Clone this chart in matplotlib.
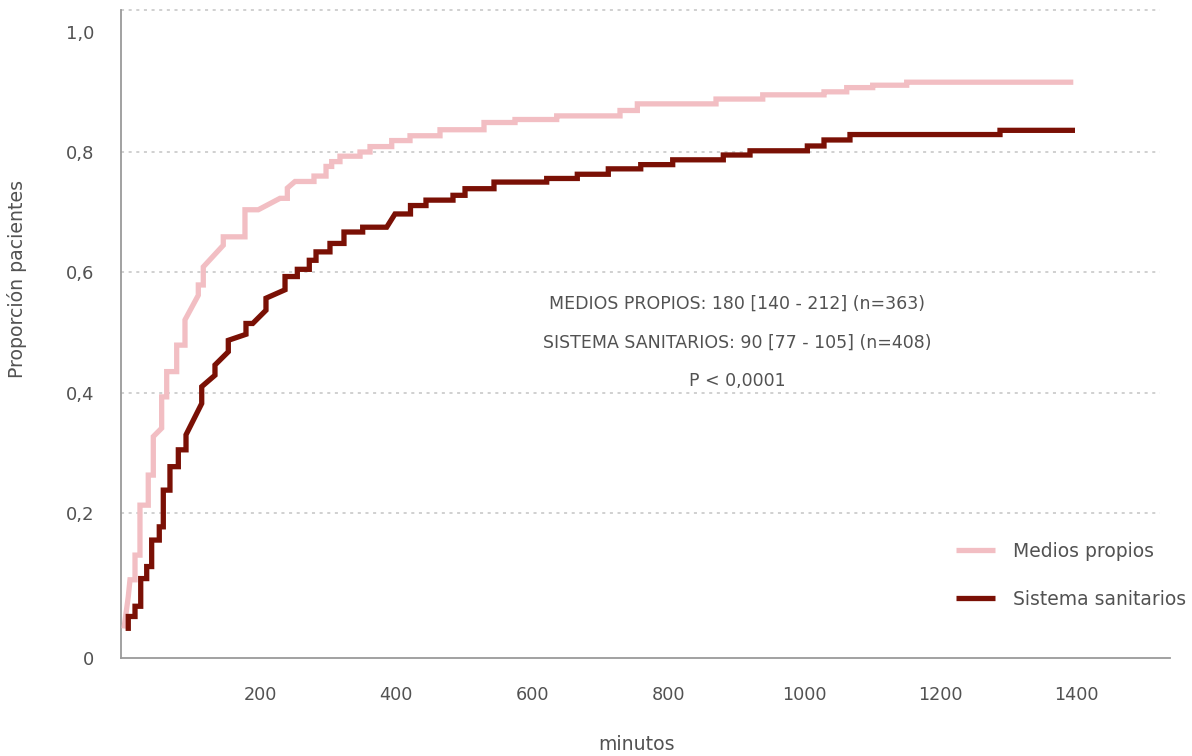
import matplotlib
matplotlib.use("Agg")
import matplotlib.pyplot as plt

# curve vertices (minutes, proportion)
medios_t = [0.0, 6.3, 8.8, 16.2, 16.2, 23.5, 23.5, 35.7, 35.7, 43.1, 43.1, 55.4, 55.4, 62.8, 62.8,
            77.5, 77.5, 89.7, 89.7, 109.3, 109.3, 116.6, 116.6, 146.0, 146.0, 177.9, 177.9, 197.5,
            229.4, 240.2, 240.2, 251.5, 279.4, 279.4, 297.1, 297.1, 305.4, 305.4, 317.6, 317.6, 347.1,
            347.1, 361.8, 361.8, 393.7, 393.7, 420.6, 420.6, 464.7, 464.7, 529.4, 529.4, 575.0, 575.0,
            636.3, 636.3, 729.4, 729.4, 754.9, 754.9, 870.6, 870.6, 939.3, 939.3, 1029.4, 1029.4,
            1062.8, 1062.8, 1101.0, 1101.0, 1151.0, 1151.0, 1396.0]
medios_p = [0.008, 0.061, 0.089, 0.089, 0.130, 0.130, 0.213, 0.213, 0.263, 0.263, 0.327, 0.341, 0.393,
            0.393, 0.435, 0.435, 0.479, 0.479, 0.521, 0.562, 0.579, 0.579, 0.609, 0.645, 0.659, 0.659,
            0.704, 0.704, 0.723, 0.723, 0.740, 0.751, 0.751, 0.760, 0.760, 0.776, 0.776, 0.784, 0.784,
            0.793, 0.793, 0.800, 0.800, 0.809, 0.809, 0.819, 0.819, 0.827, 0.827, 0.837, 0.837, 0.849,
            0.849, 0.854, 0.854, 0.860, 0.860, 0.869, 0.869, 0.880, 0.880, 0.888, 0.888, 0.895, 0.895,
            0.900, 0.900, 0.907, 0.907, 0.911, 0.911, 0.916, 0.916]

sistema_t = [6.3, 6.3, 16.2, 16.2, 24.6, 24.6, 33.4, 33.4, 40.7, 40.7, 51.9, 51.9, 57.8, 57.8, 67.6,
             67.6, 79.9, 79.9, 91.2, 91.2, 114.3, 114.3, 133.8, 133.8, 153.4, 153.4, 179.4, 179.4,
             189.3, 208.8, 208.8, 236.8, 236.8, 254.9, 254.9, 272.5, 272.5, 282.4, 282.4, 302.9, 302.9,
             323.5, 323.5, 351.0, 351.0, 386.3, 398.5, 421.3, 421.3, 444.1, 444.1, 483.8, 483.8, 501.5,
             501.5, 544.1, 544.1, 621.6, 621.6, 666.6, 666.6, 712.2, 712.2, 759.9, 759.9, 806.9, 806.9,
             881.3, 881.3, 920.6, 920.6, 1004.9, 1004.9, 1029.4, 1029.4, 1067.6, 1067.6, 1288.2, 1288.2,
             1398.5]
sistema_p = [0.004, 0.028, 0.028, 0.045, 0.045, 0.091, 0.091, 0.111, 0.111, 0.155, 0.155, 0.177, 0.177,
             0.238, 0.238, 0.277, 0.277, 0.305, 0.305, 0.330, 0.382, 0.410, 0.429, 0.446, 0.468, 0.487,
             0.497, 0.515, 0.515, 0.537, 0.557, 0.571, 0.593, 0.593, 0.605, 0.605, 0.620, 0.620, 0.634,
             0.634, 0.648, 0.648, 0.667, 0.667, 0.675, 0.675, 0.697, 0.697, 0.711, 0.711, 0.720, 0.720,
             0.728, 0.728, 0.739, 0.739, 0.750, 0.750, 0.756, 0.756, 0.763, 0.763, 0.772, 0.772, 0.779,
             0.779, 0.787, 0.787, 0.795, 0.795, 0.802, 0.802, 0.810, 0.810, 0.820, 0.820, 0.829, 0.829,
             0.836, 0.836]

x_ticks = [200, 400, 600, 800, 1000, 1200, 1400]
y_ticks = [-0.041, 0.2, 0.4, 0.6, 0.8, 1.0]
y_labels = ["0", "0,2", "0,4", "0,6", "0,8", "1,0"]
grid_y = [0.2, 0.4, 0.6, 0.8]
stats = ["MEDIOS PROPIOS: 180 [140 - 212] (n=363)",
         "SISTEMA SANITARIOS: 90 [77 - 105] (n=408)",
         "P < 0,0001"]

plt.rcParams['font.family'] = ['DejaVu Sans']
txt = '#525252'
light = '#F2BEC3'
dark = '#7A1005'

fig = plt.figure(figsize=(11.92, 7.56), dpi=100)
ax = fig.add_axes([121/1192, 98/756, 1049/1192, 648/756])
ax.set_xlim(-4.4, 1538.2)
ax.set_ylim(-0.041, 1.036)

# dotted gridlines
for g in grid_y + [1.036]:
    ax.axhline(g, xmin=0, xmax=0.99, color='#c4c4c4', lw=1.1, ls=(0, (2, 3)), clip_on=False, zorder=1)

ax.plot(medios_t, medios_p, color=light, lw=3.8, solid_joinstyle='miter', solid_capstyle='butt',
        label='Medios propios', zorder=3)
ax.plot(sistema_t, sistema_p, color=dark, lw=3.8, solid_joinstyle='miter', solid_capstyle='butt',
        label='Sistema sanitarios', zorder=4)

for s in ['top', 'right']:
    ax.spines[s].set_visible(False)
for s in ['left', 'bottom']:
    ax.spines[s].set_color('#9a9a9a')
    ax.spines[s].set_linewidth(1.3)

ax.set_xticks(x_ticks)
ax.set_xticklabels([str(v) for v in x_ticks])
ax.set_yticks(y_ticks)
ax.set_yticklabels(y_labels)
ax.tick_params(axis='x', length=0, pad=20, labelsize=12.7, labelcolor=txt)
ax.tick_params(axis='y', length=0, pad=19, labelsize=13, labelcolor=txt)

fig.text(17/1192, 1 - 279/756, 'Proporción pacientes', rotation=90, ha='center', va='center',
         fontsize=13.6, color=txt)
fig.text(637/1192, 1 - 744/756, 'minutos', ha='center', va='center', fontsize=13.6, color=txt)

for i, s in enumerate(stats):
    fig.text(737/1192, 1 - (304 + 38.5 * i)/756, s, ha='center', va='center', fontsize=12.5, color=txt)

ax.legend(loc='center left', bbox_to_anchor=(956/1192, 1 - 575.5/756), bbox_transform=fig.transFigure,
          frameon=False, fontsize=13.5, labelcolor=txt, handlelength=2.1, handletextpad=0.95,
          labelspacing=1.55, borderpad=0, borderaxespad=0)

fig.savefig('out.png', dpi=100)
